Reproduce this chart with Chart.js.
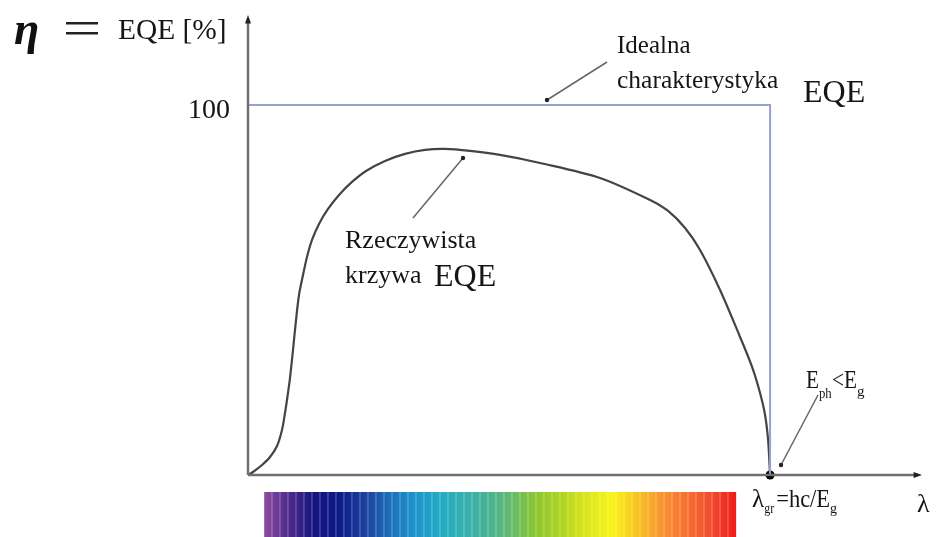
<!DOCTYPE html>
<html>
<head>
<meta charset="utf-8">
<script src="https://cdn.jsdelivr.net/npm/chart.js@4/dist/chart.umd.min.js"></script>
<style>
  body { margin: 0; background: #fff; }
  canvas { display: block; }
</style>
</head>
<body>
<canvas id="eqeChart" width="944" height="537"></canvas>
<script>
// wavelength in % of lambda_gr, EQE in %
const realX = [0, 0.96, 2.68, 4.21, 5.56, 6.51, 7.09, 7.66, 8.05, 8.62, 9.2, 9.77, 10.54, 11.3, 12.26, 13.6, 15.33, 17.43, 19.92, 22.61, 26.25, 30.08, 33.91, 37.74, 42.53, 48.28, 55.94, 67.43, 77.01, 80.46, 83.72, 86.59, 90.42, 94.25, 96.55, 98.08, 99.04, 99.62, 100];
const realY = [0, 0.81, 2.7, 4.86, 7.84, 12.16, 16.76, 22.16, 26.22, 33.78, 41.89, 48.65, 54.05, 58.92, 63.51, 67.84, 71.89, 75.68, 79.19, 82.16, 84.86, 86.76, 87.84, 88.11, 87.57, 86.49, 84.32, 80.27, 74.32, 71.35, 66.76, 60.81, 50.0, 37.3, 29.19, 22.16, 16.22, 9.46, 0];
const idealX = [0, 100, 100];
const idealY = [100, 100, 0];
const yTicks = [100];
const cutoff = [100];

const spectrumStops = ["#8c4c9f", "#4c2a8c", "#161580", "#0c1a88", "#1a3e9c", "#1c6cb8", "#1c92cc", "#22aac6", "#32b0b0", "#48b294", "#66ba6a", "#8ec82e", "#b0d420", "#dce61a", "#f8f418", "#f8c420", "#f89430", "#f87030", "#f24a2e", "#ee1a1a"];

function toPoints(xs, ys) {
    return xs.map((x, i) => ({ x: x, y: ys[i] }));
}

const serif = '"Liberation Serif", "Times New Roman", serif';

function arrowHead(ctx, x, y, dir, size) {
    ctx.beginPath();
    if (dir === "up") {
        ctx.moveTo(x, y);
        ctx.lineTo(x - size / 2, y + size * 1.4);
        ctx.lineTo(x + size / 2, y + size * 1.4);
    } else {
        ctx.moveTo(x, y);
        ctx.lineTo(x - size * 1.4, y - size / 2);
        ctx.lineTo(x - size * 1.4, y + size / 2);
    }
    ctx.closePath();
    ctx.fill();
}

function pointer(ctx, x1, y1, x2, y2) {
    ctx.save();
    ctx.strokeStyle = "#666";
    ctx.fillStyle = "#222";
    ctx.lineWidth = 1.5;
    ctx.beginPath();
    ctx.moveTo(x1, y1);
    ctx.lineTo(x2, y2);
    ctx.stroke();
    ctx.beginPath();
    ctx.arc(x2, y2, 2.2, 0, Math.PI * 2);
    ctx.fill();
    ctx.restore();
}

function text(ctx, str, x, y, size, opts) {
    opts = opts || {};
    ctx.save();
    ctx.font = (opts.style || "") + " " + size + "px " + serif;
    ctx.fillStyle = opts.color || "#151515";
    ctx.textBaseline = "alphabetic";
    ctx.textAlign = "left";
    ctx.translate(x, y);
    ctx.scale(opts.sx || 1, 1);
    ctx.fillText(str, 0, 0);
    const w = ctx.measureText(str).width * (opts.sx || 1);
    ctx.restore();
    return w;
}

const decorPlugin = {
    id: "decor",
    afterDatasetsDraw(chart) {
        const ctx = chart.ctx;
        const xs = chart.scales.x;
        const ys = chart.scales.y;
        const x0 = xs.getPixelForValue(0);
        const y0 = ys.getPixelForValue(0);
        const xEnd = xs.right;
        const yEnd = ys.top;

        // axes
        ctx.save();
        ctx.strokeStyle = "#707070";
        ctx.fillStyle = "#222";
        ctx.lineWidth = 2.5;
        ctx.beginPath();
        ctx.moveTo(x0, y0);
        ctx.lineTo(x0, yEnd + 4);
        ctx.moveTo(x0, y0);
        ctx.lineTo(xEnd - 4, y0);
        ctx.stroke();
        arrowHead(ctx, x0, yEnd, "up", 6);
        arrowHead(ctx, xEnd, y0, "right", 6);
        ctx.restore();

        // y tick label
        yTicks.forEach(v => {
            ctx.save();
            ctx.font = "28px " + serif;
            ctx.fillStyle = "#151515";
            ctx.textAlign = "right";
            ctx.textBaseline = "alphabetic";
            ctx.fillText(String(v), x0 - 18, ys.getPixelForValue(v) + 13);
            ctx.restore();
        });

        // spectrum strip
        const sx0 = xs.getPixelForValue(3.1), sx1 = xs.getPixelForValue(93.5);
        const grad = ctx.createLinearGradient(sx0, 0, sx1, 0);
        spectrumStops.forEach((c, i) => grad.addColorStop(i / (spectrumStops.length - 1), c));
        ctx.save();
        ctx.fillStyle = grad;
        ctx.fillRect(sx0, 492, sx1 - sx0, 45);
        ctx.fillStyle = "rgba(255,255,255,0.22)";
        for (let px = sx0 + 7; px < sx1 - 2; px += 8) {
            ctx.fillRect(px, 492, 1.5, 45);
        }
        ctx.restore();

        // title
        text(ctx, "\u03b7", 14, 44, 46, { style: "italic bold", color: "#111" });
        ctx.save();
        ctx.fillStyle = "#222";
        ctx.fillRect(66, 22, 32, 2.5);
        ctx.fillRect(66, 32, 32, 2.5);
        ctx.restore();
        text(ctx, "EQE [%]", 118, 39, 30, { sx: 0.98 });

        // ideal annotation
        text(ctx, "Idealna", 617, 53, 25);
        text(ctx, "charakterystyka", 617, 88, 25, { sx: 1.02 });
        text(ctx, "EQE", 803, 102, 32);
        pointer(ctx, 607, 62, 547, 100);

        // real annotation
        text(ctx, "Rzeczywista", 345, 248, 26);
        text(ctx, "krzywa", 345, 283, 26);
        text(ctx, "EQE", 434, 286, 32);
        pointer(ctx, 413, 218, 463, 158);

        // photon energy below gap
        let px = 806;
        px += text(ctx, "E", px, 388, 25, { sx: 0.85 });
        text(ctx, "ph", px, 398, 15, { sx: 0.85 });
        px += 13;
        px += text(ctx, "<E", px, 388, 25, { sx: 0.85 });
        text(ctx, "g", px, 396, 15);
        pointer(ctx, 818, 395, 781, 465);

        // cut-off wavelength
        const cx = xs.getPixelForValue(cutoff[0]);
        px = cx - 18;
        px += text(ctx, "\u03bb", px, 507, 25);
        text(ctx, "gr", px, 513, 14, { sx: 0.85 });
        px += 12;
        px += text(ctx, "=hc/E", px, 507, 25, { sx: 0.9 });
        text(ctx, "g", px, 513, 14);

        text(ctx, "\u03bb", xEnd - 5, 512, 26);
    }
};

new Chart(document.getElementById("eqeChart").getContext("2d"), {
    type: "scatter",
    data: {
        datasets: [{
            label: "Idealna charakterystyka EQE",
            data: toPoints(idealX, idealY),
            showLine: true,
            borderColor: "#96a1cc",
            borderWidth: 2,
            pointRadius: 0,
            tension: 0,
            clip: false
        }, {
            label: "Rzeczywista krzywa EQE",
            data: toPoints(realX, realY),
            showLine: true,
            borderColor: "#444",
            borderWidth: 2.2,
            pointRadius: 0,
            tension: 0.3,
            clip: false
        }, {
            label: "lambda_gr",
            data: toPoints(cutoff, [0]),
            pointRadius: 4.5,
            pointBackgroundColor: "#000",
            pointBorderWidth: 0,
            clip: false
        }]
    },
    options: {
        responsive: false,
        animation: false,
        layout: {
            padding: { left: 248, right: 22, top: 15, bottom: 62 }
        },
        plugins: {
            legend: { display: false },
            tooltip: { enabled: false }
        },
        scales: {
            x: { type: "linear", min: 0, max: 129.1, display: false },
            y: { min: 0, max: 124.3, display: false }
        }
    },
    plugins: [decorPlugin]
});
</script>
</body>
</html>
